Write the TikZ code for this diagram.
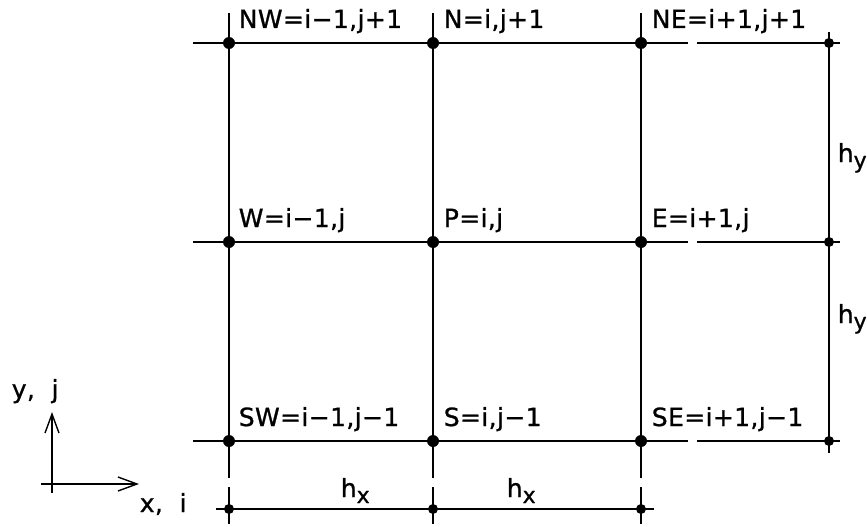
\documentclass[tikz,border=0pt]{standalone}
\usepackage{fontspec}
\setmainfont{DejaVu Sans}[LetterSpace=1.5,BoldFont={DejaVu Sans},BoldFeatures={FakeBold=1}]
\usetikzlibrary{arrows.meta}
\begin{document}
\begin{tikzpicture}[x=1pt,y=-1pt,line width=1.6pt,
  lbl/.style={anchor=base west,inner sep=0pt,font=\fontsize{25}{28}\selectfont\bfseries},
  gline/.style={line width=1.6pt},
  bigdot/.style={fill=black},
  axis/.style={line width=1.4pt,-{Straight Barb[length=19pt,width=14pt,line width=1.4pt]}}]
\newcommand{\subl}[1]{\raisebox{-6pt}{\fontsize{22}{24}\selectfont\bfseries #1}}
\useasboundingbox (0,0) rectangle (867,527);
% grid points
\foreach \c/\x in {a/229,b/433,c/641}{
  \foreach \r/\y in {1/43,2/242,3/441}{
    \coordinate (\c\r) at (\x,\y);
  }
  \coordinate (\c T) at (\x,13);
  \coordinate (\c B) at (\x,478);
  \coordinate (\c U) at (\x,487);
  \coordinate (\c Z) at (\x,524);
  \coordinate (\c X) at (\x,509);
}
\foreach \r/\y in {1/43,2/242,3/441}{
  \coordinate (L\r) at (193,\y);
  \coordinate (G\r) at (688,\y);
  \coordinate (H\r) at (697,\y);
  \coordinate (R\r) at (840,\y);
  \coordinate (D\r) at (829,\y);
}
\coordinate (DT) at (829,32);
\coordinate (DB) at (829,453);
\coordinate (XL) at (216,509);
\coordinate (XR) at (654,509);
% horizontal grid lines
\foreach \r in {1,2,3}{
  \draw[gline] (L\r) -- (G\r);
  \draw[gline] (H\r) -- (R\r);
}
% vertical grid lines and extension ticks
\foreach \c in {a,b,c}{
  \draw[gline] (\c T) -- (\c B);
  \draw[gline] (\c U) -- (\c Z);
}
% dimension lines
\draw[gline] (DT) -- (DB);
\draw[gline] (XL) -- (XR);
% dots
\foreach \p in {a1,a2,a3,b1,b2,b3,c1,c2,c3}{
  \fill[bigdot] (\p) circle (6pt);
}
\foreach \p in {D1,D2,D3,aX,bX,cX}{
  \fill[bigdot] (\p) circle (5pt);
}
% labels
\node[lbl] (lNW) at (238,28) {NW=i−1,j+1};
\node[lbl] (lN)  at (443,28) {N=i,j+1};
\node[lbl] (lNE) at (651,28) {NE=i+1,j+1};
\node[lbl] (lW)  at (238,227) {W=i−1,j};
\node[lbl] (lP)  at (443,227) {P=i,j};
\node[lbl] (lE)  at (651,227) {E=i+1,j};
\node[lbl] (lSW) at (238,426) {SW=i−1,j−1};
\node[lbl] (lS)  at (443,426) {S=i,j−1};
\node[lbl] (lSE) at (651,426) {SE=i+1,j−1};
% dimension labels
\node[lbl] (hx1) at (340,497) {h\subl{x}};
\node[lbl] (hx2) at (506,497) {h\subl{x}};
\node[lbl] (hy1) at (837,162) {h\subl{y}};
\node[lbl] (hy2) at (837,323) {h\subl{y}};
% axes
\coordinate (yb) at (52,493);
\coordinate (yt) at (52,412);
\coordinate (xl) at (41,484);
\coordinate (xr) at (139,484);
\draw[axis] (yb) -- (yt);
\draw[axis] (xl) -- (xr);
\node[lbl] (ly) at (11,398) {y,\ \ j};
\node[lbl] (lx) at (139,512) {x,\ \ i};
\end{tikzpicture}
\end{document}
